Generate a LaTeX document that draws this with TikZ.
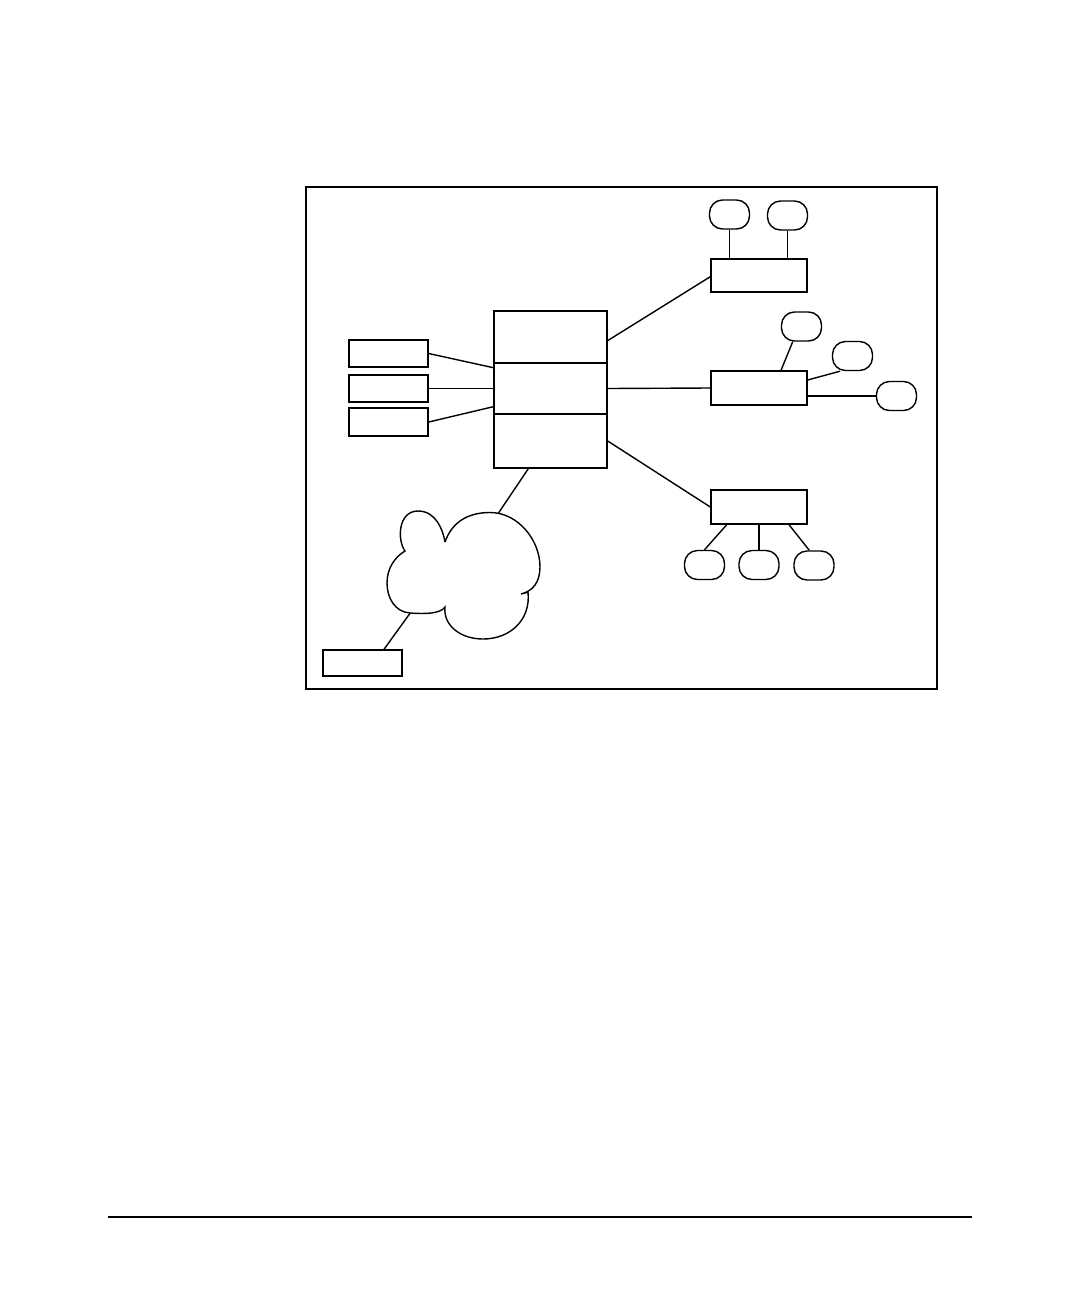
\documentclass[tikz,border=0pt]{standalone}
\begin{document}
\begin{tikzpicture}[x=0.5pt,y=-0.5pt,
  ln/.style={line width=0.7pt,black},
  box/.style={draw,ln,rectangle,inner sep=0pt,fill=none},
  term/.style={draw,ln,rectangle,rounded corners=6.5pt,inner sep=0pt,minimum width=20pt,minimum height=14.5pt},
  frame/.style={draw,line width=1.3pt}]
\useasboundingbox (0,0) rectangle (1080,1296);
% outer frame
\draw[frame] (306,187) rectangle (937,689);
% central stack
\node[box,minimum width=56.5pt,minimum height=26pt] (c1) at (550.5,337) {};
\node[box,minimum width=56.5pt,minimum height=25.5pt] (c2) at (550.5,388.5) {};
\node[box,minimum width=56.5pt,minimum height=27pt] (c3) at (550.5,441) {};
% left boxes
\node[box,minimum width=39.5pt,minimum height=13.5pt] (L1) at (388.5,353.5) {};
\node[box,minimum width=39.5pt,minimum height=13.5pt] (L2) at (388.5,388.5) {};
\node[box,minimum width=39.5pt,minimum height=14pt] (L3) at (388.5,422) {};
% right boxes
\node[box,minimum width=48pt,minimum height=16.5pt] (R1) at (759,275.5) {};
\node[box,minimum width=48pt,minimum height=17pt] (R2) at (759,388) {};
\node[box,minimum width=48pt,minimum height=17pt] (R3) at (759,507) {};
% bottom-left box
\node[box,minimum width=39.5pt,minimum height=13pt] (B) at (362.5,663) {};
% terminals
\node[term] (e1) at (729.5,214.5) {};
\node[term] (e2) at (787.5,215.5) {};
\node[term] (m1) at (801.5,326.5) {};
\node[term] (m2) at (852.5,356) {};
\node[term] (m3) at (896.5,396) {};
\node[term] (b1) at (704.5,565) {};
\node[term] (b2) at (759,565) {};
\node[term] (b3) at (814,565.5) {};
% cloud
\coordinate (cltop) at (498.3,513.3);
\coordinate (clbot) at (410,613.3);
\draw[ln] (445,542) .. controls (452,522) and (468,512.5) .. (490,512.5)
  .. controls (518,512.5) and (540,540) .. (540,567)
  .. controls (540,582) and (533,591) .. (521,594)
  .. controls (524,593) and (526,593) .. (528,592)
  .. controls (531,620) and (510,639) .. (483,639)
  .. controls (460,639) and (443,625) .. (445,607)
  .. controls (440,614) and (425,614) .. (410,613)
  .. controls (395,612) and (387,598) .. (387,583)
  .. controls (387,568) and (395,557) .. (405,551)
  .. controls (397,540) and (398,511) .. (418,511)
  .. controls (436,511) and (443,530) .. (445,542);
% connectors
\draw[ln] (L1.east) -- ([yshift=10.4pt]c2.west);
\draw[ln] (L2.east) -- (c2.west);
\draw[ln] (L3.east) -- ([yshift=-9.1pt]c2.west);
\draw[ln] ([yshift=-1.8pt]c1.east) -- ([yshift=-0.6pt]R1.west);
\draw[ln] (c2.east) -- (R2.west);
\draw[ln] (c3.east) -- (R3.west);
\draw[ln] ([xshift=-11.1pt]c3.south) -- (cltop);
\draw[ln] (clbot) -- ([xshift=10.75pt]B.north);
\draw[ln] (e1.south) -- (e1.south |- R1.north);
\draw[ln] (e2.south) -- (e2.south |- R1.north);
\draw[ln] ([xshift=11pt]R2.north) -- ([xshift=-4.4pt]m1.south);
\draw[ln] ([yshift=4pt]R2.east) -- ([xshift=-6.25pt]m2.south);
\draw[ln] ([yshift=-4pt]R2.east) -- ([yshift=-4pt]R2.east -| m3.west);
\draw[ln] ([xshift=-16.15pt]R3.south) -- (b1.north);
\draw[ln] (b2.north) -- (b2.north |- R3.south);
\draw[ln] ([xshift=15pt]R3.south) -- ([xshift=-2.35pt]b3.north);
% footer rule
\coordinate (fl) at (108,1217);
\coordinate (fr) at (972,1217);
\draw[ln] (fl) -- (fr);
\end{tikzpicture}
\end{document}
